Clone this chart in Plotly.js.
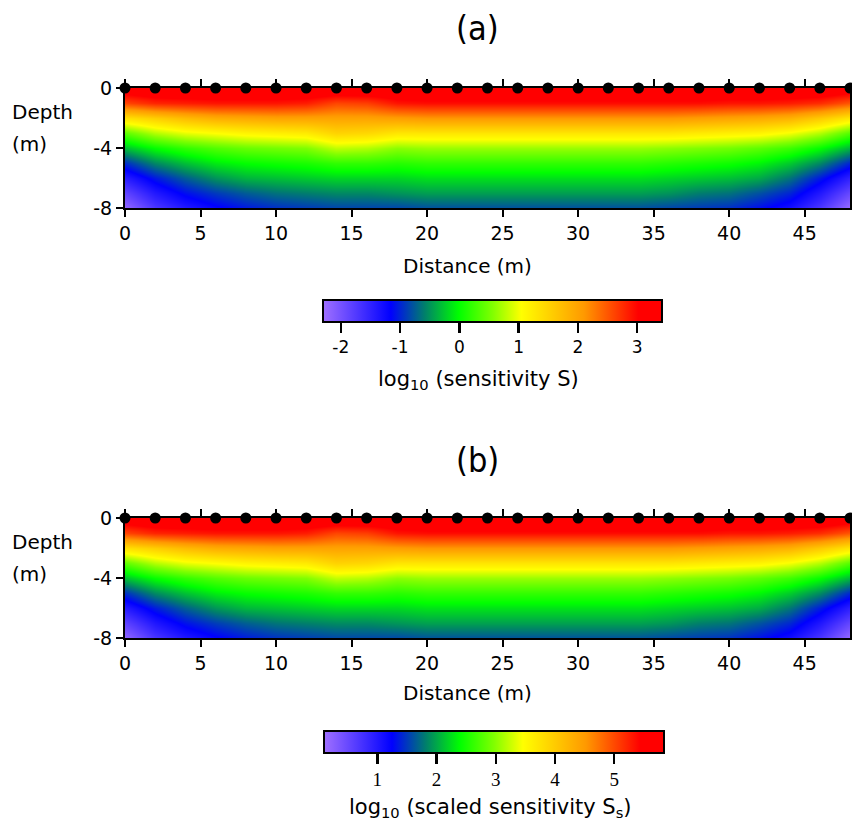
<!DOCTYPE html>
<html><head><meta charset="utf-8">
<script src="https://cdn.plot.ly/plotly-3.0.1.min.js"></script>
<style>html,body{margin:0;padding:0;background:#fff}</style>
</head><body><div id="chart" style="width:852px;height:830px"></div>
<script>
// ---- data ----
const distance = [0,2,4,6,8,10,12,14,16,18,20,22,24,26,28,30,32,34,36,38,40,42,44,46,48];
const depth = [0,-1,-2,-3,-4,-5,-6,-7,-8];
const electrodes = [0,2,4,6,8,10,12,14,16,18,20,22,24,26,28,30,32,34,36,38,40,42,44,46,48];

// panel (a): log10 sensitivity S, one row per depth
const sensA_d0 = [3.3,3.4,3.4,3.4,3.4,3.4,3.4,3.4,3.4,3.4,3.4,3.4,3.4,3.4,3.4,3.4,3.4,3.4,3.4,3.4,3.4,3.4,3.4,3.4,3.3];
const sensA_d1 = [2.6,2.8,2.85,2.9,2.9,2.9,2.85,2.6,2.65,2.9,2.95,2.95,2.95,2.95,2.95,2.95,2.95,2.95,2.95,2.95,2.9,2.9,2.85,2.75,2.5];
const sensA_d2 = [1.35,1.55,1.75,1.9,1.95,2.0,2.0,2.0,2.0,2.05,2.1,2.1,2.1,2.1,2.1,2.1,2.1,2.1,2.1,2.05,2.0,1.95,1.85,1.6,1.3];
const sensA_d3 = [0.4,0.75,0.95,1.05,1.15,1.2,1.25,1.5,1.45,1.3,1.3,1.3,1.3,1.3,1.3,1.3,1.3,1.3,1.3,1.25,1.2,1.15,1.0,0.75,0.35];
const sensA_d4 = [-0.3,0.0,0.2,0.35,0.45,0.5,0.55,0.8,0.75,0.6,0.65,0.65,0.65,0.65,0.65,0.65,0.65,0.65,0.6,0.55,0.5,0.4,0.25,0.0,-0.35];
const sensA_d5 = [-0.95,-0.55,-0.3,-0.1,0.0,0.05,0.1,0.2,0.2,0.15,0.2,0.2,0.2,0.2,0.2,0.2,0.2,0.2,0.15,0.1,0.05,-0.05,-0.25,-0.55,-1.0];
const sensA_d6 = [-1.45,-1.05,-0.75,-0.5,-0.35,-0.3,-0.25,-0.2,-0.2,-0.2,-0.15,-0.15,-0.15,-0.15,-0.15,-0.15,-0.15,-0.15,-0.2,-0.25,-0.3,-0.4,-0.65,-1.05,-1.5];
const sensA_d7 = [-1.85,-1.4,-1.1,-0.9,-0.75,-0.65,-0.6,-0.55,-0.55,-0.5,-0.45,-0.45,-0.45,-0.45,-0.45,-0.45,-0.45,-0.45,-0.5,-0.6,-0.65,-0.8,-1.0,-1.4,-1.9];
const sensA_d8 = [-2.2,-1.7,-1.4,-1.2,-1.05,-0.95,-0.9,-0.85,-0.85,-0.85,-0.8,-0.8,-0.8,-0.8,-0.8,-0.8,-0.8,-0.8,-0.85,-0.9,-0.95,-1.1,-1.3,-1.7,-2.25];

// panel (b): log10 scaled sensitivity Ss, one row per depth
const sensB_d0 = [5.72,5.82,5.82,5.82,5.82,5.82,5.82,5.82,5.82,5.82,5.82,5.82,5.82,5.82,5.82,5.82,5.82,5.82,5.82,5.82,5.82,5.82,5.82,5.82,5.72];
const sensB_d1 = [5.02,5.22,5.27,5.32,5.32,5.32,5.27,5.02,5.07,5.32,5.37,5.37,5.37,5.37,5.37,5.37,5.37,5.37,5.37,5.37,5.32,5.32,5.27,5.17,4.92];
const sensB_d2 = [3.77,3.97,4.17,4.32,4.37,4.42,4.42,4.42,4.42,4.47,4.52,4.52,4.52,4.52,4.52,4.52,4.52,4.52,4.52,4.47,4.42,4.37,4.27,4.02,3.72];
const sensB_d3 = [2.82,3.17,3.37,3.47,3.57,3.62,3.67,3.92,3.87,3.72,3.72,3.72,3.72,3.72,3.72,3.72,3.72,3.72,3.72,3.67,3.62,3.57,3.42,3.17,2.77];
const sensB_d4 = [2.12,2.42,2.62,2.77,2.87,2.92,2.97,3.22,3.17,3.02,3.07,3.07,3.07,3.07,3.07,3.07,3.07,3.07,3.02,2.97,2.92,2.82,2.67,2.42,2.07];
const sensB_d5 = [1.47,1.87,2.12,2.32,2.42,2.47,2.52,2.62,2.62,2.57,2.62,2.62,2.62,2.62,2.62,2.62,2.62,2.62,2.57,2.52,2.47,2.37,2.17,1.87,1.42];
const sensB_d6 = [0.97,1.37,1.67,1.92,2.07,2.12,2.17,2.22,2.22,2.22,2.27,2.27,2.27,2.27,2.27,2.27,2.27,2.27,2.22,2.17,2.12,2.02,1.77,1.37,0.92];
const sensB_d7 = [0.57,1.02,1.32,1.52,1.67,1.77,1.82,1.87,1.87,1.92,1.97,1.97,1.97,1.97,1.97,1.97,1.97,1.97,1.92,1.82,1.77,1.62,1.42,1.02,0.52];
const sensB_d8 = [0.22,0.72,1.02,1.22,1.37,1.47,1.52,1.57,1.57,1.57,1.62,1.62,1.62,1.62,1.62,1.62,1.62,1.62,1.57,1.52,1.47,1.32,1.12,0.72,0.17];

const xTicks = [0,5,10,15,20,25,30,35,40,45];
const yTicks = [0,-4,-8];
const cbTicksA = [-2,-1,0,1,2,3];
const cbTicksB = [1,2,3,4,5];
const rangeA = [-2.3, 3.42];
const rangeB = [0.1, 5.84];
const titleA = '(a)';
const titleB = '(b)';
const cbTitleA = 'log<sub>10</sub> (sensitivity S)';
const cbTitleB = 'log<sub>10</sub> (scaled sensitivity S<sub>s</sub>)';

// ---- build ----
const W = 852, H = 830;
const px = v => v / W;
const py = v => 1 - v / H;
const FONT = 'DejaVu Sans, Verdana, sans-serif';

const colorscale = [
  [0.00, '#a070ff'],
  [0.20, '#0000ff'],
  [0.30, '#00806a'],
  [0.40, '#00ff00'],
  [0.50, '#80ff00'],
  [0.585, '#ffff00'],
  [0.77, '#ff9900'],
  [0.93, '#ff0000'],
  [1.00, '#ff0000']
];

const zA = [sensA_d0,sensA_d1,sensA_d2,sensA_d3,sensA_d4,sensA_d5,sensA_d6,sensA_d7,sensA_d8];
const zB = [sensB_d0,sensB_d1,sensB_d2,sensB_d3,sensB_d4,sensB_d5,sensB_d6,sensB_d7,sensB_d8];

function cb(ticks, cx, topPx, lenPx, tickfont) {
  return {
    orientation: 'h', x: px(cx), xanchor: 'center', y: py(topPx), yanchor: 'top',
    lenmode: 'pixels', len: lenPx, thickness: 22, thicknessmode: 'pixels',
    xpad: 0, ypad: 0,
    outlinewidth: 2, outlinecolor: '#000',
    ticks: 'outside', ticklen: 10, tickwidth: 2.5, tickcolor: '#000',
    tickmode: 'array', tickvals: ticks, ticktext: ticks.map(String),
    tickfont: tickfont
  };
}

const traces = [
  {type: 'heatmap', x: distance, y: depth, z: zA, zsmooth: 'best',
   colorscale: colorscale, zmin: rangeA[0], zmax: rangeA[1], xaxis: 'x', yaxis: 'y',
   colorbar: cb(cbTicksA, 492.5, 300, 339, {family: FONT, size: 17, color: '#000'}), hoverinfo: 'skip'},
  {type: 'heatmap', x: distance, y: depth, z: zB, zsmooth: 'best',
   colorscale: colorscale, zmin: rangeB[0], zmax: rangeB[1], xaxis: 'x2', yaxis: 'y2',
   colorbar: cb(cbTicksB, 494, 731, 340, {family: 'Liberation Serif, DejaVu Serif, serif', size: 19, color: '#000'}), hoverinfo: 'skip'},
  {type: 'scatter', mode: 'markers', x: electrodes, y: electrodes.map(() => 0), xaxis: 'x', yaxis: 'y',
   marker: {color: '#000', size: 11}, cliponaxis: false, showlegend: false, hoverinfo: 'skip'},
  {type: 'scatter', mode: 'markers', x: electrodes, y: electrodes.map(() => 0), xaxis: 'x2', yaxis: 'y2',
   marker: {color: '#000', size: 11}, cliponaxis: false, showlegend: false, hoverinfo: 'skip'}
];

function xax(anchor) {
  return {domain: [px(125), px(850)], range: [0, 48], anchor: anchor,
    tickmode: 'array', tickvals: xTicks, ticktext: xTicks.map(String),
    ticks: 'outside', ticklen: 7, tickwidth: 2, tickcolor: '#000',
    showline: true, linewidth: 2, linecolor: '#000', mirror: 'allticks',
    showgrid: false, zeroline: false, tickfont: {family: FONT, size: 19, color: '#000'}};
}
function yax(anchor, top, bottom) {
  return {domain: [py(bottom), py(top)], range: [-8, 0], anchor: anchor,
    tickmode: 'array', tickvals: yTicks, ticktext: yTicks.map(String),
    ticks: 'outside', ticklen: 7, tickwidth: 2, tickcolor: '#000',
    showline: true, linewidth: 2, linecolor: '#000', mirror: 'allticks',
    showgrid: false, zeroline: false, tickfont: {family: FONT, size: 19, color: '#000'}};
}

const ann = (text, x, y, size, xanchor, fam) => ({
  text: text, x: px(x), y: py(y), xref: 'paper', yref: 'paper',
  xanchor: xanchor || 'center', yanchor: 'middle', showarrow: false, align: 'left',
  font: {family: fam || FONT, size: size, color: '#000'}
});

const CONDENSED = 'DejaVu Sans Condensed, DejaVu Sans, sans-serif';
const layout = {
  width: W, height: H, margin: {l: 0, r: 0, t: 0, b: 0},
  paper_bgcolor: '#fff', plot_bgcolor: '#fff', showlegend: false,
  xaxis: xax('y'), yaxis: yax('x', 88, 208),
  xaxis2: xax('y2'), yaxis2: yax('x2', 518, 638),
  annotations: [
    ann(titleA, 477, 28, 34, 'center', CONDENSED),
    ann(titleB, 477, 460, 34, 'center', CONDENSED),
    ann('Depth', 10, 112, 20, 'left'),
    ann('(m)', 10, 144, 20, 'left'),
    ann('Depth', 10, 542, 20, 'left'),
    ann('(m)', 10, 574, 20, 'left'),
    ann('Distance (m)', 467, 266, 20),
    ann('Distance (m)', 467, 693, 20),
    ann(cbTitleA, 478, 380, 21),
    ann(cbTitleB, 490, 808, 21)
  ]
};

Plotly.newPlot('chart', traces, layout, {staticPlot: true});
</script></body></html>
